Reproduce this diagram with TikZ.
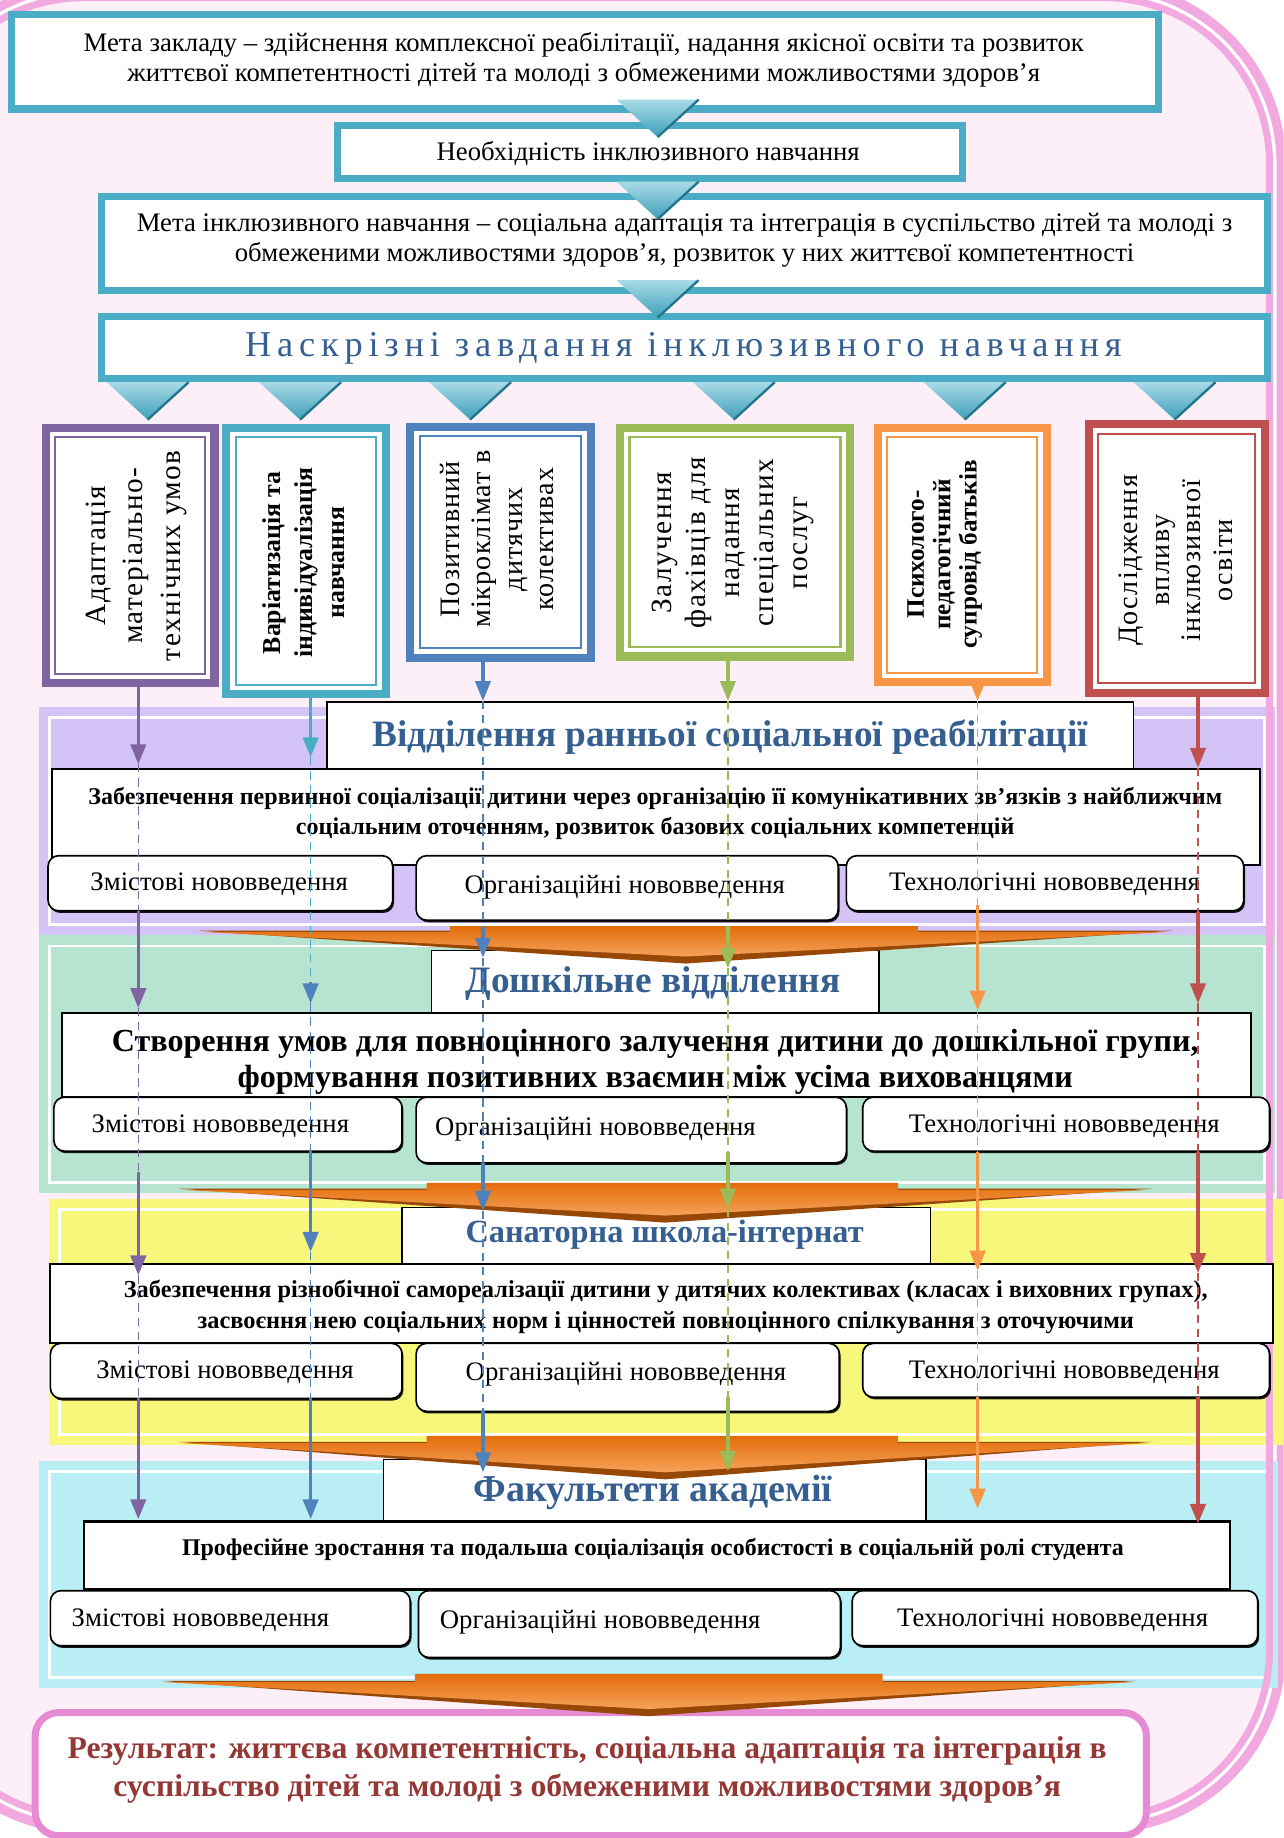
\documentclass[tikz,border=0pt]{standalone}
\usepackage{fontspec}
\setmainfont{Liberation Serif}
\usetikzlibrary{arrows.meta,shadows}
\definecolor{cPurple}{HTML}{8064A2}
\definecolor{cTeal}{HTML}{4BACC6}
\definecolor{cBlue}{HTML}{4F81BD}
\definecolor{cGreen}{HTML}{9BBB59}
\definecolor{cOrange}{HTML}{F79646}
\definecolor{cRed}{HTML}{C0504D}
\definecolor{cHead}{HTML}{365F91}
\definecolor{cRes}{HTML}{953735}
\definecolor{cPink}{HTML}{F2A9DF}
\definecolor{cResB}{HTML}{E68AD4}
\definecolor{cBg}{HTML}{FCEFF8}
\definecolor{cLav}{HTML}{D4C3F7}
\definecolor{cMint}{HTML}{B6E4D1}
\definecolor{cYel}{HTML}{F7F77B}
\definecolor{cCyan}{HTML}{B9EEF4}
\definecolor{cOrA}{HTML}{E36C0A}
\definecolor{cOrB}{HTML}{F5A25A}
\definecolor{cBrown}{HTML}{974806}
\definecolor{cTriA}{HTML}{A8DAE7}
\definecolor{cTriB}{HTML}{3E9FB9}
\definecolor{cTriD}{HTML}{23758B}
\newcommand\fs[2]{\fontsize{#1}{#2}\selectfont}
\newcommand\bxat[6]{\node[#2,minimum width={(#5)-(#3)},minimum height={(#6)-(#4)},anchor=north west] (#1) at ({#3},{#4}) {};}
\newcommand\vbx[6]{%
 \bxat{#1}{bx,draw=#2,line width=7pt,fill=white}{#3}{#4}{#5}{#6}
 \bxat{#1i}{bx,draw=#2,line width=1.8pt}{#3+8}{#4+8}{#5-8}{#6-8}}
\newcommand\sect[6]{%
 \bxat{#1}{bx,fill=#2}{#3}{#4}{#5}{#6}
 \draw[white,line width=2.5pt] ({#3+9},{#4+9}) rectangle ({#5-9},{#6-9});}
\newcommand\chev[7]{%
 \fill[cBrown] ({#1-2},{#6-1}) -- ({#2+2},{#6-1}) -- ({(#1+#2)/2},{#7}) -- cycle;
 \shade[top color=cOrA,bottom color=cOrB] (#3,#5) -- (#4,#5) -- (#4,#6) -- (#2,#6) -- ({(#1+#2)/2},{#7-6}) -- (#1,#6) -- (#3,#6) -- cycle;}
\newcommand\tri[2]{%
 \shade[top color=cTriA,bottom color=cTriB] ({#1-35},{#2}) -- ({#1+35},{#2}) -- ({#1},{#2+32}) -- cycle;
 \draw[cTriD,line width=2pt] ({#1+35},{#2}) -- ({#1},{#2+32});}
\newcommand\colline[3]{\foreach \ya/\yb/\k in {#3}{\ifnum\k=1 \draw[#1,sol] (#2,\ya) -- (#2,\yb);\else\draw[#1,dsh] (#2,\ya) -- (#2,\yb);\fi}}
\begin{document}
\begin{tikzpicture}[x=1pt,y=-1pt,
 bx/.style={rectangle,inner sep=0pt,outer sep=0pt},
 topbox/.style={bx,draw=cTeal,line width=6pt,fill=white},
 hdr/.style={bx,draw=black,line width=1.2pt,fill=white},
 mainb/.style={bx,draw=black,line width=1.8pt,fill=white},
 subb/.style={bx,draw=black,line width=1.4pt,fill=white,rounded corners=9pt,drop shadow={shadow xshift=1.2pt,shadow yshift=-1.8pt,opacity=0.9,fill=black}},
 sol/.style={line width=3pt,-{Triangle[width=13pt,length=17pt]}},
 dsh/.style={line width=1.4pt,dash pattern=on 7pt off 5pt},
 txt/.style={align=center,inner sep=0pt},
 subt/.style={txt,font=\fs{22.8}{26}},
 ]
\useasboundingbox (0,0) rectangle (1095,1568);
\clip (0,0) rectangle (1095,1568);
\fill[white] (0,0) rectangle (1095,1568);
\fill[cBg,rounded corners=142pt] (-71,-2) rectangle (1083,1550);
\draw[cPink,line width=8pt,rounded corners=152pt] (-81,-12) rectangle (1093,1560);
% sections
\sect{s1}{cLav}{33}{603}{1088}{798}
\sect{s2}{cMint}{33}{798}{1088}{1018}
\sect{s3}{cYel}{42}{1023}{1095}{1233}
\sect{s4}{cCyan}{33}{1246}{1090}{1440}
\draw[cPink,line width=6pt,rounded corners=142pt] (-71,-2) rectangle (1083,1550);
% top boxes
\bxat{b1}{topbox}{10}{12}{988}{93}
\bxat{b2}{topbox}{288}{107}{821}{152}
\bxat{b3}{topbox}{87}{168}{1081}{248}
\bxat{b4}{topbox}{87}{270}{1081}{323}
\node[txt,font=\fs{22.8}{26}] (t1) at (498,51) {Мета закладу – здійснення комплексної реабілітації, надання якісної освіти та розвиток\\життєвої компетентності дітей та молоді з обмеженими можливостями здоров’я};
\node[txt,font=\fs{22.8}{26}] (t2) at (553,131) {Необхідність інклюзивного навчання};
\node[txt,font=\fs{22.8}{26}] (t3) at (584,205) {Мета інклюзивного навчання – соціальна адаптація та інтеграція в суспільство дітей та молоді з\\обмеженими можливостями здоров’я, розвиток у них життєвої компетентності};
\node[txt,font={\fs{31}{34}\addfontfeature{LetterSpace=16}},text=cHead] (t4) at (583,297) {Наскрізні завдання інклюзивного навчання};
% triangles
\tri{561}{85}
\tri{561}{155}
\tri{561}{239}
\foreach \cx in {126,256,401,626,823,1002} {\tri{\cx}{326}}
% vertical boxes
\vbx{v1}{cPurple}{39}{365}{183}{583}
\vbx{v2}{cTeal}{193}{365}{329}{592}
\vbx{v3}{cBlue}{350}{364}{504}{561}
\vbx{v4}{cGreen}{529}{365}{725}{560}
\vbx{v5}{cOrange}{749}{365}{893}{582}
\vbx{v6}{cRed}{929}{362}{1079}{591}
\node[txt,rotate=90,font={\fs{25}{32}\addfontfeature{LetterSpace=5}}] (v1t) at (116,474) {Адаптація\\матеріально-\\технічних умов};
\node[txt,rotate=90,font={\fs{22}{27}\bfseries}] (v2t) at (259,480) {Варіатизація та\\індивідуалізація\\навчання};
\node[txt,rotate=90,font={\fs{24}{27}\addfontfeature{LetterSpace=4}}] (v3t) at (424,460) {Позитивний\\мікроклімат в\\дитячих\\колективах};
\node[txt,rotate=90,font={\fs{25}{29}\addfontfeature{LetterSpace=5}}] (v4t) at (625,463) {Залучення\\фахівців для\\надання\\спеціальних\\послуг};
\node[txt,rotate=90,font={\fs{21.5}{22.5}\bfseries}] (v5t) at (806,473) {Психолого-\\педагогічний\\супровід батьків};
\node[txt,rotate=90,font={\fs{24}{27}\addfontfeature{LetterSpace=5}}] (v6t) at (1003,478) {Дослідження\\впливу\\інклюзивної\\освіти};
% section 1
\bxat{h1}{hdr}{279}{599}{967}{656}
\bxat{m1}{mainb}{44}{656}{1075}{738}
\bxat{z1}{subb}{41}{730}{335}{777}
\bxat{o1}{subb}{355}{730}{715}{785}
\bxat{e1}{subb}{722}{730}{1061}{777}
\node[txt,font={\fs{31.8}{34}\bfseries},text=cHead] (h1t) at (623,629) {Відділення ранньої соціальної реабілітації};
\node[txt,font={\fs{20.5}{26}\bfseries}] (m1t) at (559,694) {Забезпечення первинної соціалізації дитини через організацію її комунікативних зв’язків з найближчим\\соціальним оточенням, розвиток базових соціальних компетенцій};
\node[subt] (z1t) at (187,754) {Змістові нововведення};
\node[subt] (o1t) at (533,757) {Організаційні нововведення};
\node[subt] (e1t) at (891,754) {Технологічні нововведення};
% section 2
\bxat{h2}{hdr}{368}{811}{750}{864}
\bxat{m2}{mainb}{53}{864}{1067}{936}
\bxat{z2}{subb}{46}{936}{343}{982}
\bxat{o2}{subb}{355}{936}{722}{992}
\bxat{e2}{subb}{736}{936}{1083}{982}
\node[txt,font={\fs{31.8}{34}\bfseries},text=cHead] (h2t) at (557,839) {Дошкільне відділення};
\node[txt,font={\fs{27.4}{31}\bfseries}] (m2t) at (559,906) {Створення умов для повноцінного залучення дитини до дошкільної групи,\\формування позитивних взаємин між усіма вихованцями};
\node[subt] (z2t) at (188,961) {Змістові нововведення};
\node[subt] (o2t) at (508,963) {Організаційні нововведення};
\node[subt] (e2t) at (908,961) {Технологічні нововведення};
% section 3
\bxat{h3}{hdr}{343}{1030}{794}{1078}
\bxat{m3}{mainb}{43}{1078}{1086}{1146}
\bxat{z3}{subb}{43}{1146}{343}{1193}
\bxat{o3}{subb}{355}{1146}{716}{1204}
\bxat{e3}{subb}{736}{1146}{1083}{1192}
\node[txt,font={\fs{27.6}{30}\bfseries},text=cHead] (h3t) at (567,1053) {Санаторна школа-інтернат};
\node[txt,font={\fs{20.8}{26}\bfseries}] (m3t) at (568,1115) {Забезпечення різнобічної самореалізації дитини у дитячих колективах (класах і виховних групах),\\засвоєння нею соціальних норм і цінностей повноцінного спілкування з оточуючими};
\node[subt] (z3t) at (192,1171) {Змістові нововведення};
\node[subt] (o3t) at (534,1172) {Організаційні нововведення};
\node[subt] (e3t) at (908,1171) {Технологічні нововведення};
% section 4
\bxat{h4}{hdr}{327}{1245}{790}{1297}
\bxat{m4}{mainb}{72}{1298}{1049}{1356}
\bxat{z4}{subb}{43}{1357}{350}{1404}
\bxat{o4}{subb}{357}{1357}{717}{1414}
\bxat{e4}{subb}{727}{1357}{1073}{1404}
\node[txt,font={\fs{32.4}{34}\bfseries},text=cHead] (h4t) at (557,1273) {Факультети академії};
\node[txt,font={\fs{20.4}{24}\bfseries}] (m4t) at (557,1322) {Професійне зростання та подальша соціалізація особистості в соціальній ролі студента};
\node[subt] (z4t) at (171,1382) {Змістові нововведення};
\node[subt] (o4t) at (512,1384) {Організаційні нововведення};
\node[subt] (e4t) at (898,1382) {Технологічні нововведення};
% result
\bxat{res}{bx,draw=cResB,line width=6pt,fill=white,rounded corners=20pt}{30}{1461}{978}{1566}
\node[txt,font={\fs{27}{32}\bfseries},text=cRes] (rest) at (501,1510) {Результат: життєва компетентність, соціальна адаптація та інтеграція в\\суспільство дітей та молоді з обмеженими можливостями здоров’я};
% chevrons
\chev{172}{998}{384}{783}{790}{795}{822}
\chev{154}{981}{364}{766}{1009}{1015}{1043}
\chev{154}{981}{364}{766}{1225}{1231}{1262}
\chev{140}{967}{354}{753}{1428}{1435}{1464}
% column connectors
\colline{cPurple}{118}{586/652/1,652/777/0,777/860/1,860/1000/0,1000/1088/1,1088/1193/0,1193/1296/1}
\colline{cTeal}{265}{594/646/1,646/838/0}
\colline{cBlue}{265}{838/856/1,856/982/0,982/1068/1,1068/1193/0,1193/1296/1}
\colline{cBlue}{412}{560/598/1,598/791/0,791/817/1,817/992/0,992/1033/1,1033/1203/0,1203/1256/1}
\colline{cGreen}{621}{560/598/1,598/790/0,790/826/1,826/983/0,983/1031/1,1031/1192/0,1192/1255/1}
\colline{cOrange}{834}{583/598/1,598/772/0,772/862/1,862/983/0,983/1084/1,1084/1192/0,1192/1287/1}
\colline{cRed}{1022}{592/655/1,655/778/0,778/856/1,856/983/0,983/1086/1,1086/1192/0,1192/1300/1}
\end{tikzpicture}
\end{document}
